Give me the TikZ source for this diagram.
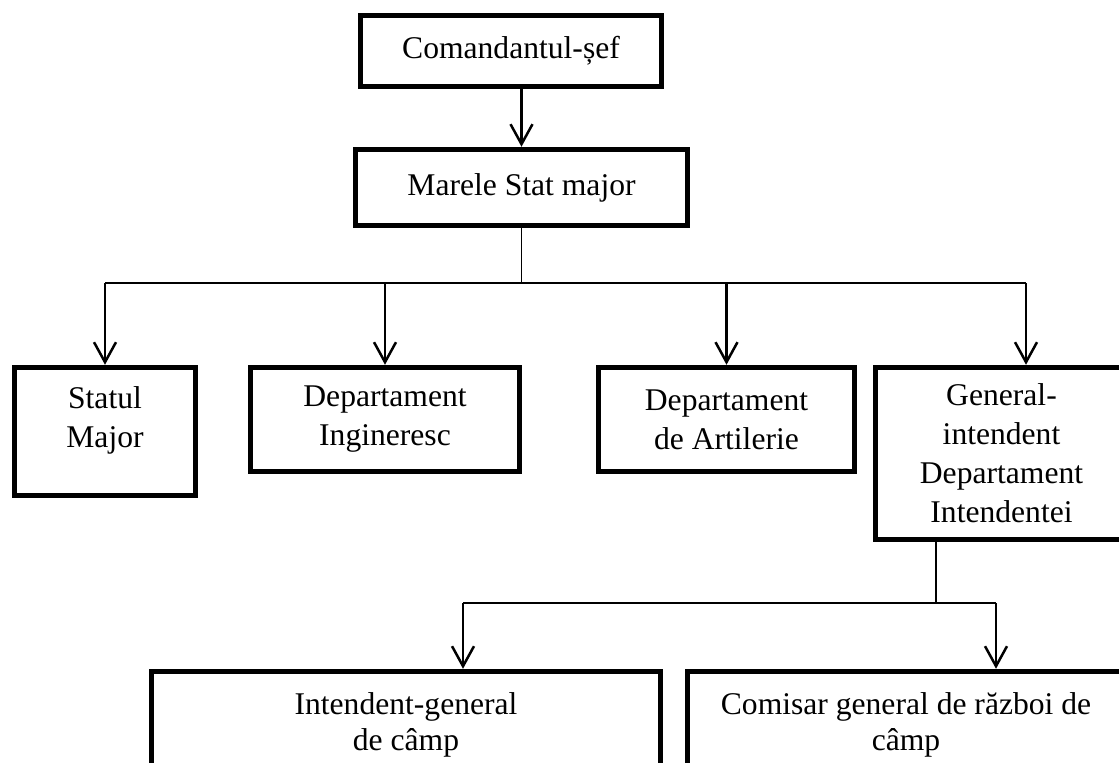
\documentclass[tikz,border=0pt]{standalone}
\usepackage{fontspec}
\setmainfont{Liberation Serif}
\usetikzlibrary{arrows.meta,calc}

\begin{document}
\begin{tikzpicture}[x=0.5pt,y=-0.5pt,
  box/.style={draw,line width=2.75pt,align=center,inner sep=0pt,font=\fontsize{15.8}{19.5}\selectfont},
  arr/.style={line width=1.25pt,-{Straight Barb[length=10pt,width=11pt]}},
  link/.style={line width=0.85pt}]
\useasboundingbox (0,0) rectangle (1119,762);
\clip (0,0) rectangle (1119,762);

% Define the coordinates of the buses
\coordinate (bus) at (0,283);
\coordinate (subbus) at (0,603);

% Draw the boxes
\node[box,minimum width=150.5pt,minimum height=35.5pt] (chief) at (511,51) {Comandantul-șef};
\node[box,minimum width=166pt,minimum height=38pt] (stat) at (521.5,187.5) {Marele Stat major};

\node[box,minimum width=90.5pt,minimum height=64pt,text depth=14.4pt] (statul) at (105,431.5) {Statul\\Major};
\node[box,minimum width=134.5pt,minimum height=52pt] (ingineresc) at (385,419.5) {Departament\\Ingineresc};
\node[box,minimum width=128pt,minimum height=52pt] (artilerie) at (726.5,419.5) {Departament\\de Artilerie};
\node[box,minimum width=126pt,minimum height=86pt] (general) at (1001.5,453.5) {General-\\intendent\\Departament\\Intendentei};

\node[box,minimum width=254.5pt,minimum height=53pt,font=\fontsize{15.8}{18}\selectfont] (intendent) at (406,724.5) {Intendent-general\\de câmp};
\node[box,minimum width=218.5pt,minimum height=53pt,font=\fontsize{15.8}{18}\selectfont] (comisar) at (906,724.5) {Comisar general de război de\\câmp};

% Draw the top link
\draw[arr] (chief.south -| stat.north) -- (stat.north);

% Draw the first level
\draw[link] (stat.south) -- (stat.south |- bus);
\draw[link] (statul.north |- bus) -- ([xshift=12.25pt]general.north |- bus);
\draw[arr] (statul.north |- bus) -- (statul.north);
\draw[arr] (ingineresc.north |- bus) -- (ingineresc.north);
\draw[arr] (artilerie.north |- bus) -- (artilerie.north);
\draw[arr] ([xshift=12.25pt]general.north |- bus) -- ([xshift=12.25pt]general.north);

% Draw the second level
\draw[link] ([xshift=-32.75pt]general.south) -- ([xshift=-32.75pt]general.south |- subbus);
\draw[link] ([xshift=28.5pt]intendent.north |- subbus) -- ([xshift=45pt]comisar.north |- subbus);
\draw[arr] ([xshift=28.5pt]intendent.north |- subbus) -- ([xshift=28.5pt]intendent.north);
\draw[arr] ([xshift=45pt]comisar.north |- subbus) -- ([xshift=45pt]comisar.north);
\end{tikzpicture}
\end{document}
